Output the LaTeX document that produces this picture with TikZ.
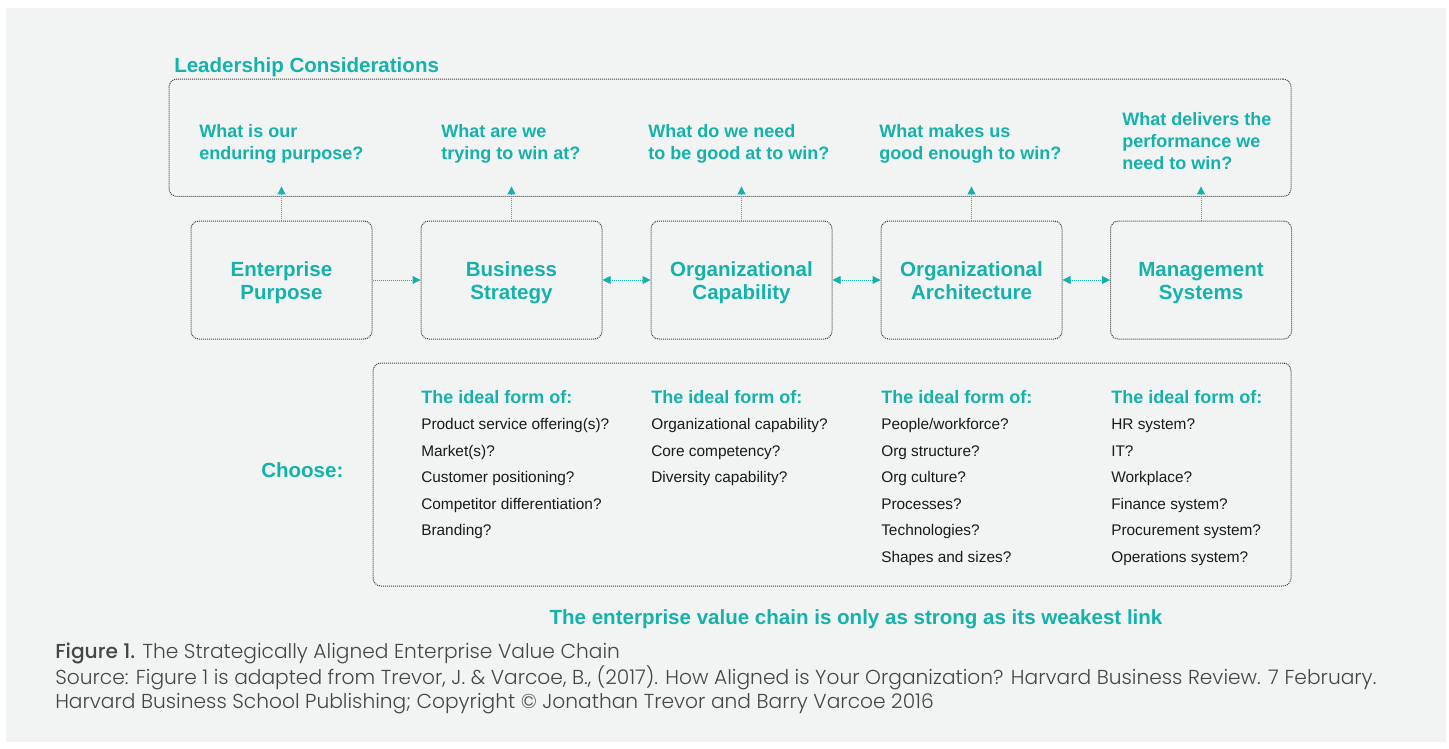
\documentclass[tikz,border=0pt]{standalone}
\usepackage{fontspec}
\setmainfont{Liberation Sans}
\newfontfamily\capfont{Poppins}[UprightFont=* Light, BoldFont=* Medium]
\usetikzlibrary{arrows.meta}
\definecolor{chainteal}{RGB}{20,178,171}
\definecolor{panelgray}{RGB}{242,244,244}
\definecolor{boxgray}{RGB}{60,60,60}
\definecolor{capgray}{RGB}{70,70,70}
\newcommand\stagetext[2]{#1\vrule height 14.55pt width 0pt\\#2\vrule depth 3.3pt width 0pt}
\tikzset{
  dotbox/.style={draw=boxgray, line width=0.75pt, dash pattern=on 0.75pt off 0.75pt, rounded corners=6pt},
  stage/.style={dotbox, minimum width=135.75pt, minimum height=88.5pt, align=center, text=chainteal,
    font=\fontsize{15.4}{17.25}\selectfont\bfseries},
  question/.style={anchor=base west, inner sep=0pt, align=left, text=chainteal,
    font=\fontsize{13.5}{16.5}\selectfont\bfseries},
  heading/.style={anchor=base west, inner sep=0pt, text=chainteal, font=\fontsize{15.4}{18}\selectfont\bfseries},
  colhead/.style={anchor=base west, inner sep=0pt, text=chainteal, font=\fontsize{13.5}{16.5}\selectfont\bfseries},
  item/.style={anchor=base west, inner sep=0pt, text=black!90, font=\fontsize{11.55}{14}\selectfont},
  link/.style={chainteal, line width=0.75pt, dash pattern=on 0.75pt off 0.75pt, -{Triangle[length=6pt,width=6pt]}},
  twolink/.style={link, {Triangle[length=6pt,width=6pt]}-{Triangle[length=6pt,width=6pt]}}
}
\begin{document}
\begin{tikzpicture}[x=0.75pt,y=-0.75pt]
\path[fill=white, use as bounding box] (0,0) rectangle (1449,749);
\fill[panelgray] (6,8) rectangle (1446,742);

\node[heading] (lc) at (174,72.7) {Leadership Considerations};
\node[dotbox, minimum width=841.5pt, minimum height=88.1pt] (lead) at (730,137.75) {};

\node[question] (q1) at (199,159.6) {What is our\\enduring purpose?};
\node[question] (q2) at (441,159.6) {What are we\\trying to win at?};
\node[question] (q3) at (648,159.6) {What do we need\\to be good at to win?};
\node[question] (q4) at (879,159.6) {What makes us\\good enough to win?};
\node[question] (q5) at (1122,169.6) {What delivers the\\performance we\\need to win?};

\node[stage] (ep) at (281.5,280) {\stagetext{Enterprise}{Purpose}};
\node[stage] (bs) at (511.5,280) {\stagetext{Business}{Strategy}};
\node[stage] (oc) at (741.5,280) {\stagetext{Organizational}{Capability}};
\node[stage] (oa) at (971.5,280) {\stagetext{Organizational}{Architecture}};
\node[stage] (ms) at (1201,280) {\stagetext{Management}{Systems}};

\foreach \s in {ep,bs,oc,oa,ms}
  \draw[link] (\s.north) -- ([yshift=7.9pt]\s.north |- lead.south);
\draw[link] (ep.east) -- (bs.west);
\draw[twolink] (bs.east) -- (oc.west);
\draw[twolink] (oc.east) -- (oa.west);
\draw[twolink] (oa.east) -- (ms.west);

\node[dotbox, minimum width=688.5pt, minimum height=167.25pt] (pick) at (832,474.5) {};
\node[heading] (choose) at (261,477.7) {Choose:};

\node[colhead] (h1) at (421,403) {The ideal form of:};
\node[colhead] (h2) at (651,403) {The ideal form of:};
\node[colhead] (h3) at (881,403) {The ideal form of:};
\node[colhead] (h4) at (1111,403) {The ideal form of:};

\foreach \t [count=\i] in {Product service offering(s)?, Market(s)?, Customer positioning?,
    Competitor differentiation?, Branding?}
  \node[item] (a\i) at (421,403+26.5*\i) {\t};
\foreach \t [count=\i] in {Organizational capability?, Core competency?, Diversity capability?}
  \node[item] (b\i) at (651,403+26.5*\i) {\t};
\foreach \t [count=\i] in {People/workforce?, Org structure?, Org culture?, Processes?,
    Technologies?, Shapes and sizes?}
  \node[item] (c\i) at (881,403+26.5*\i) {\t};
\foreach \t [count=\i] in {HR system?, IT?, Workplace?, Finance system?, Procurement system?,
    Operations system?}
  \node[item] (d\i) at (1111,403+26.5*\i) {\t};

\node[heading, anchor=base] (weak) at (856,624) {The enterprise value chain is only as strong as its weakest link};

\node[anchor=base west, inner sep=0pt, align=left, text=capgray, font=\capfont\fontsize{15.15}{18}\selectfont]
  (cap) at (55,708.5) {{\bfseries Figure 1.} The Strategically Aligned Enterprise Value Chain\\
  Source: Figure 1 is adapted from Trevor, J. \& Varcoe, B., (2017). How Aligned is Your Organization? Harvard Business Review. 7 February.\\
  Harvard Business School Publishing; Copyright \textcopyright{} Jonathan Trevor and Barry Varcoe 2016};
\end{tikzpicture}
\end{document}
